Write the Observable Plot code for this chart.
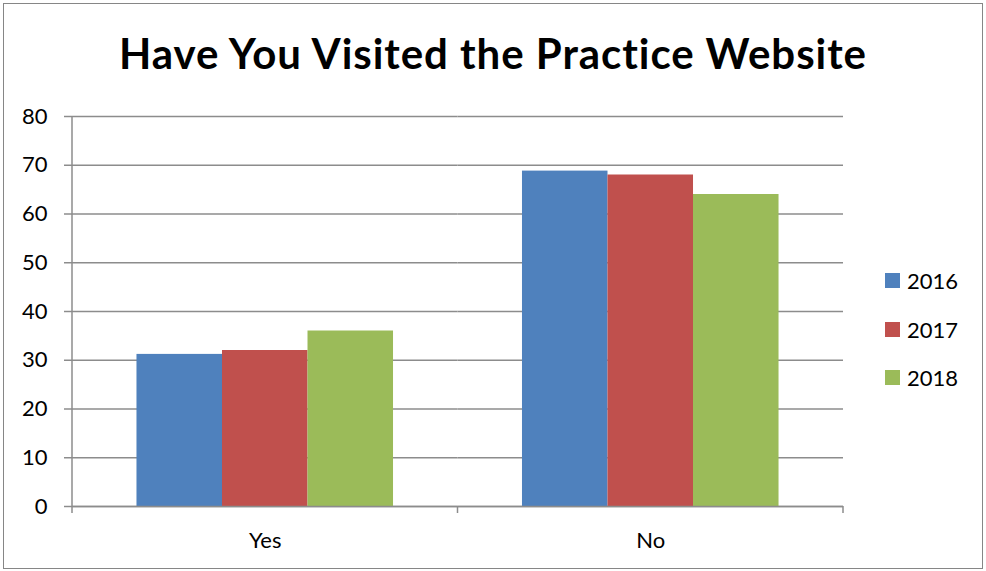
<!DOCTYPE html>
<html><head><meta charset="utf-8">
<script src="https://cdn.jsdelivr.net/npm/d3@7"></script>
<script src="https://cdn.jsdelivr.net/npm/@observablehq/plot@0.6"></script>
<style>
html,body{margin:0;padding:0;background:#fff;}
#wrap{position:relative;width:986px;height:571px;overflow:hidden;font-family:Lato,"Open Sans",sans-serif;color:#000;}
#frame{position:absolute;left:3px;top:3px;width:980px;height:566px;border:1px solid #868686;box-sizing:border-box;}
#title{position:absolute;left:0;top:32px;width:986px;text-align:center;font-weight:bold;font-size:42px;line-height:42px;letter-spacing:0.95px;white-space:nowrap;}
#chart{position:absolute;left:0;top:100px;}
#legend{position:absolute;left:885px;top:273px;display:flex;flex-direction:column;gap:33.5px;font-size:22px;}
#legend .item{display:flex;align-items:center;height:15px;line-height:15px;}
#legend .sw{width:15px;height:15px;margin-right:7px;}
</style>
</head><body>
<div id="wrap">
  <div id="frame"></div>
  <div id="title">Have You Visited the Practice Website</div>
  <div id="chart"></div>
  <div id="legend"></div>
</div>
<script>
const categories = ["Yes", "No"];
const years = ["2016", "2017", "2018"];
const values2016 = [31.2, 68.8];
const values2017 = [32.0, 68.0];
const values2018 = [36.0, 64.0];
const yTicks = [0, 10, 20, 30, 40, 50, 60, 70, 80];
const colors = ["#4F81BD", "#C0504D", "#9BBB59"];

const seriesValues = [values2016, values2017, values2018];
const data = categories.flatMap((c, i) =>
  years.map((yr, j) => ({category: c, year: yr, value: seriesValues[j][i]})));

const gridColor = "#8c8c8c";

const plot = Plot.plot({
  width: 986,
  height: 468,
  marginTop: 16,
  marginBottom: 62,
  marginLeft: 72,
  marginRight: 143,
  style: {fontFamily: "Lato, 'Open Sans', sans-serif", fontSize: "22px", color: "#000", background: "transparent", overflow: "visible"},
  fx: {domain: categories, paddingInner: 0, paddingOuter: 0, round: false, label: null},
  x: {domain: years, paddingInner: 0, paddingOuter: 0.754, round: false, axis: null},
  y: {domain: [0, 80], label: null},
  color: {domain: years, range: colors},
  marks: [
    Plot.gridY(yTicks, {stroke: gridColor, strokeOpacity: 1, strokeWidth: 1.5}),
    Plot.barY(data, {fx: "category", x: "year", y: "value", fill: "year"}),
    Plot.ruleY([0], {stroke: gridColor, strokeWidth: 1.5}),
    Plot.axisY(yTicks, {tickSize: 8, tickPadding: 17, stroke: gridColor, strokeWidth: 1.5, fill: "#000", fontSize: 22, label: null}),
    Plot.axisFx({anchor: "bottom", tickSize: 0, tickPadding: 26, fontSize: 22, fill: "#000", label: null})
  ]
});
document.getElementById("chart").appendChild(plot);

// Axis line and category boundary ticks, positioned via Plot's own scales
const fx = plot.scale("fx");
const ys = plot.scale("y");
const svg = d3.select(plot);
const x0 = fx.apply(categories[0]);
const y0 = ys.apply(0);
const yTop = ys.apply(80);
const g = svg.append("g").attr("stroke", gridColor).attr("stroke-width", 1.5);
g.append("line").attr("x1", x0).attr("x2", x0).attr("y1", yTop).attr("y2", y0);
const bounds = categories.map(c => fx.apply(c)).concat([fx.apply(categories[categories.length - 1]) + fx.bandwidth]);
bounds.forEach(b => g.append("line").attr("x1", b).attr("x2", b).attr("y1", y0).attr("y2", y0 + 7));

// Legend using the color scale
const color = plot.scale("color");
const legend = d3.select("#legend");
years.forEach(yr => {
  const item = legend.append("div").attr("class", "item");
  item.append("div").attr("class", "sw").style("background", color.apply(yr));
  item.append("span").text(yr);
});
</script>
</body></html>
